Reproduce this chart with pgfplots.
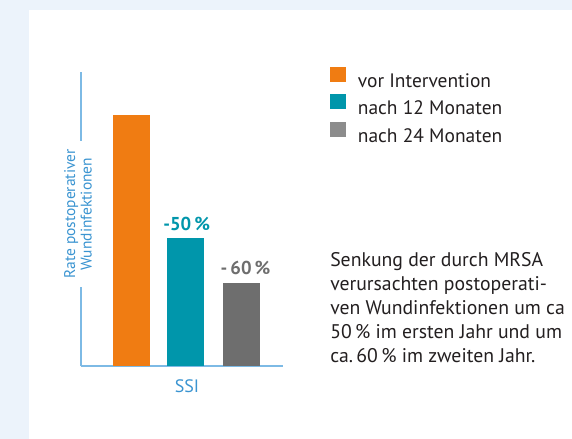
\documentclass[border=0pt]{standalone}
\usepackage{fontspec}
\setmainfont{PT Sans}
\usepackage{pgfplots}
\pgfplotsset{compat=1.18}
\definecolor{bgblue}{HTML}{ECF3FB}
\definecolor{axisblue}{HTML}{7DBAE5}
\definecolor{labelblue}{HTML}{3A94D1}
\definecolor{orng}{HTML}{F07C12}
\definecolor{tealc}{HTML}{0096AB}
\definecolor{dgray}{HTML}{6E6E6E}
\definecolor{lgray}{HTML}{8C8C8C}
\definecolor{txt}{HTML}{231F20}

\begin{document}
\begin{tikzpicture}
\useasboundingbox (0,0) rectangle (429pt,-329.25pt);
\fill[bgblue] (0,0) rectangle (429pt,-329.25pt);
\fill[white] (21.75pt,-7.5pt) rectangle (429pt,-329.25pt);
\begin{axis}[
  at={(60.75pt,-274.5pt)}, anchor=south west,
  width=151.5pt, height=220.5pt, scale only axis,
  xmin=-0.944, xmax=2.83, ymin=0, ymax=117.1,
  axis x line=bottom, axis y line=left,
  axis line style={axisblue, line width=1pt, -},
  xtick=\empty, ytick=\empty,
  legend style={at={(1.21,1.027)}, anchor=north west, draw=none, fill=none,
    font=\fontsize{14.6}{17}\selectfont, text=txt, row sep=2pt,
    /tikz/every odd column/.append style={column sep=7.5pt}},
  legend cell align=left,
]
% bars: vor Intervention, nach 12 Monaten, nach 24 Monaten
\addplot[ybar, bar width=27.75pt, bar shift=0pt, fill=orng, draw=none, forget plot] coordinates {(0,100)};
\addplot[ybar, bar width=27.75pt, bar shift=0pt, fill=tealc, draw=none, forget plot] coordinates {(1,51)};
\addplot[ybar, bar width=27.75pt, bar shift=0pt, fill=dgray, draw=none, forget plot] coordinates {(2.056,33)};

\addlegendimage{legend image code/.code={\fill[orng] (0pt,0pt) rectangle (11.25pt,10.5pt);}}
\addlegendentry{vor Intervention}
\addlegendimage{legend image code/.code={\fill[tealc] (0pt,0pt) rectangle (11.25pt,10.5pt);}}
\addlegendentry{nach 12 Monaten}
\addlegendimage{legend image code/.code={\fill[lgray] (0pt,0pt) rectangle (11.25pt,10.5pt);}}
\addlegendentry{nach 24 Monaten}

\node[font=\bfseries\fontsize{14}{14}\selectfont, text=tealc, yshift=10.5pt] at (axis cs:1.03,51) {-50\,\%};
\node[font=\bfseries\fontsize{14}{14}\selectfont, text=dgray, yshift=11.25pt] at (axis cs:2.13,33) {-\,60\,\%};
\end{axis}
\node[rotate=90, fill=white, align=center, inner sep=1pt, minimum width=109pt,
  font=\fontsize{11.6}{12.5}\selectfont, text=labelblue] at (58.5pt,-160.5pt)
  {Rate postoperativer\\Wundinfektionen};
\node[font=\fontsize{13.5}{14}\selectfont, text=labelblue] at (140.25pt,-289.5pt) {SSI};
\node[anchor=north west, align=left, inner sep=0pt, font=\fontsize{14.8}{18}\selectfont, text=txt]
  at (247.5pt,-189pt)
  {Senkung der durch MRSA\\verursachten postoperati-\\ven Wundinfektionen um ca\\50\,\% im ersten Jahr und um\\ca.\,60\,\% im zweiten Jahr.};
\end{tikzpicture}
\end{document}
